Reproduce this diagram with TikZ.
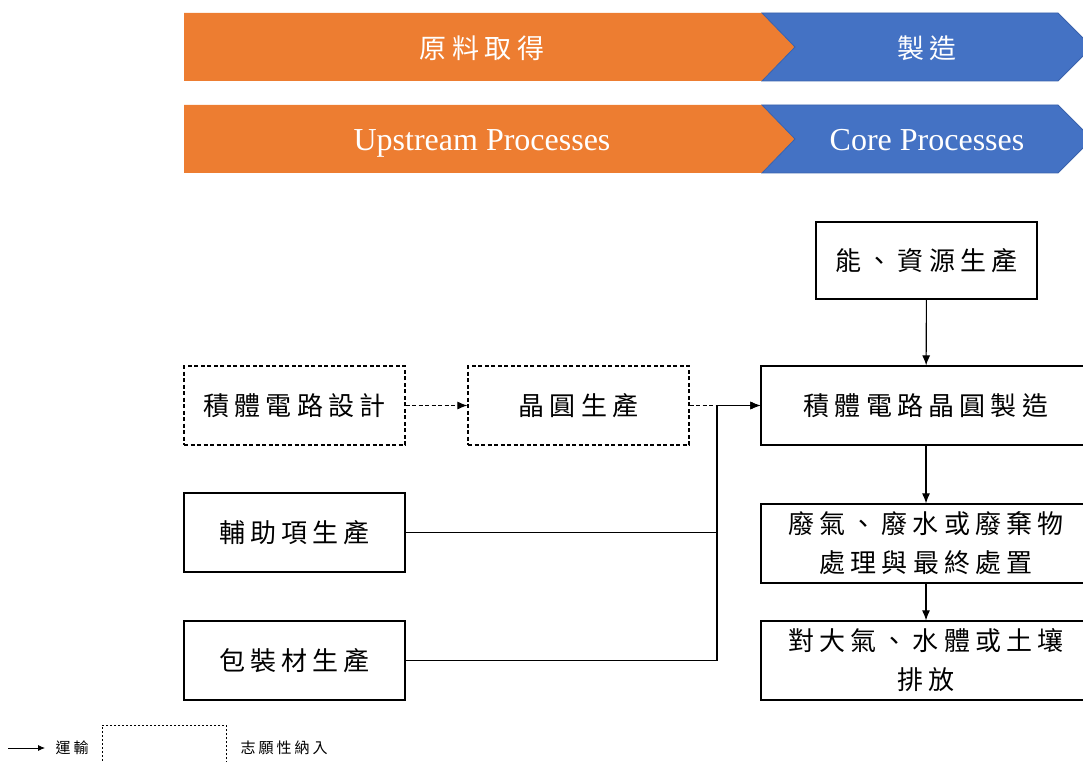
\documentclass[tikz,border=0pt]{standalone}
\usepackage{fontspec}
\setmainfont{Liberation Serif}
\newfontfamily\cjk[LetterSpace=20]{Noto Sans CJK TC}
\usetikzlibrary{arrows.meta}

\definecolor{upcol}{HTML}{ED7D31}
\definecolor{corecol}{HTML}{4472C4}
\definecolor{coreline}{HTML}{3A62AD}

\begin{document}
\begin{tikzpicture}[x=1pt,y=-1pt]
      \tikzstyle{box} = [draw,line width=1.2pt,minimum width=221pt,minimum height=79pt,inner sep=0pt,align=center,font=\cjk\fontsize{26}{39}\selectfont]
      \tikzstyle{opt} = [box,dash pattern=on 4pt off 2.5pt]
      \tikzstyle{wide} = [box,minimum width=330pt]
      \tikzstyle{flow} = [line width=1.1pt,-{Latex[length=10pt,width=8pt]}]
      \tikzstyle{banner} = [text=white,text height=22pt,text depth=7pt,inner sep=0pt]

      \useasboundingbox (0,0) rectangle (1083,762);
      \clip (0,0) rectangle (1083,762);

      % stage banners
      \foreach \y/\up/\core [count=\i] in
        {13/{\cjk\fontsize{27}{30}\selectfont 原料取得}/{\cjk\fontsize{27}{30}\selectfont 製造},
         105/{\fontsize{32}{36}\selectfont Upstream Processes}/{\fontsize{32}{36}\selectfont Core Processes}} {
        \fill[upcol] (184,\y) -- (762,\y) -- (795,\y+34) -- (762,\y+68) -- (184,\y+68) -- cycle;
        \filldraw[fill=corecol,draw=coreline,line width=0.8pt] (762,\y) -- (1058,\y) -- (1092,\y+34)
          -- (1058,\y+68) -- (762,\y+68) -- (795,\y+34) -- cycle;
        \node[banner](up\i) at (482,\y+38) {\up};
        \node[banner](core\i) at (927,\y+38) {\core};
      }

      % process boxes
      \node[opt](design) at (294.5,405.5) {積體電路設計};
      \node[opt](wafer) at (578.5,405.5) {晶圓生產};
      \node[box](aux) at (294.5,532.5) {輔助項生產};
      \node[box](pack) at (294.5,660.5) {包裝材生產};
      \node[box,minimum height=77pt](energy) at (926.5,260.5) {能、資源生產};
      \node[wide](fab) at (926,405.5) {積體電路晶圓製造};
      \node[wide](waste) at (926,543.5) {廢氣、廢水或廢棄物\\處理與最終處置};
      \node[wide](emit) at (926,660.5) {對大氣、水體或土壤\\排放};
      \coordinate (join) at (717,405.5);

      \draw[flow,dash pattern=on 4pt off 2.5pt] (design) -- (wafer);
      \draw[flow,dash pattern=on 4pt off 2.5pt] (wafer) -- (fab);
      \draw[line width=1.1pt] (aux) -- (aux -| join) -- (join);
      \draw[line width=1.1pt] (pack) -- (pack -| join) -- (join);
      \draw[flow] (join) -- (fab);
      \draw[flow] (energy) -- (fab);
      \draw[flow] (fab) -- (waste);
      \draw[flow] (waste) -- (emit);

      % legend
      \coordinate (legs) at (8,748);
      \coordinate (lege) at (45,748);
      \draw[line width=0.8pt,-{Latex[length=7pt,width=6pt]}] (legs) -- (lege);
      \node[anchor=west,font=\cjk\fontsize{15}{17}\selectfont](legtr) at (52,748) {運輸};
      \node[draw,line width=0.8pt,dash pattern=on 2pt off 2pt,minimum width=124pt,minimum height=50pt](legbox) at (164,750) {};
      \node[anchor=west,font=\cjk\fontsize{15}{17}\selectfont](legopt) at (237,748) {志願性納入};
\end{tikzpicture}
\end{document}
